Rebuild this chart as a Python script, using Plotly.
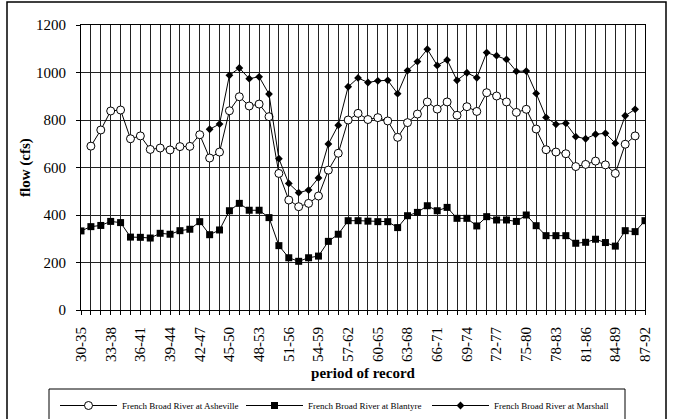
import plotly.graph_objects as go

categories = [f"{y}-{y + 5}" for y in range(30, 88)]
label_every = 3

asheville = [None, 690, 758, 838, 842, 721, 733, 676, 682, 674,
             688, 689, 738, 640, 665, 839, 898, 859, 867, 814,
             575, 463, 435, 449, 480, 589, 660, 800, 828, 802,
             810, 796, 727, 789, 825, 876, 846, 876, 820, 856,
             836, 915, 901, 876, 832, 845, 762, 675, 665, 658,
             604, 613, 627, 611, 575, 698, 733, None]

blantyre = [333, 351, 356, 373, 368, 307, 306, 303, 323, 319,
            334, 340, 372, 317, 337, 418, 449, 420, 420, 389,
            271, 220, 205, 220, 227, 289, 319, 376, 376, 374,
            372, 372, 347, 397, 411, 439, 418, 432, 386, 386,
            354, 393, 379, 379, 373, 400, 355, 313, 313, 313,
            281, 285, 298, 284, 269, 334, 330, 376]

marshall = [None] * 13 + [761, 783, 988, 1019, 974, 982, 909,
            637, 533, 494, 505, 556, 699, 778, 940, 977, 958,
            965, 967, 911, 1008, 1046, 1098, 1030, 1053, 967, 999,
            978, 1084, 1071, 1055, 1005, 1006, 912, 811, 782, 786,
            730, 721, 740, 744, 702, 818, 845, None]

series_names = ["French Broad River at Asheville",
                "French Broad River at Blantyre",
                "French Broad River at Marshall"]

y_ticks = [0, 200, 400, 600, 800, 1000, 1200]

FONT = "Liberation Serif"

fig = go.Figure()
fig.add_trace(go.Scatter(
    x=categories, y=asheville, name=series_names[0], mode="lines+markers",
    line=dict(color="black", width=1),
    marker=dict(symbol="circle", size=8, color="white",
                line=dict(color="black", width=1)),
    connectgaps=False))
fig.add_trace(go.Scatter(
    x=categories, y=blantyre, name=series_names[1], mode="lines+markers",
    line=dict(color="black", width=1),
    marker=dict(symbol="square", size=7, color="black",
                line=dict(color="black", width=0))))
fig.add_trace(go.Scatter(
    x=categories, y=marshall, name=series_names[2], mode="lines+markers",
    line=dict(color="black", width=1),
    marker=dict(symbol="diamond", size=6, color="black",
                line=dict(color="black", width=0))))

ticktext = [c if i % label_every == 0 else "" for i, c in enumerate(categories)]

W, H = 675, 419
L, R, T, B = 81, 30, 25, 109
pw, ph = W - L - R, H - T - B


def px_x(x):
    return (x - L) / pw


def px_y(y):
    return (H - B - y) / ph


fig.update_layout(
    width=W, height=H,
    margin=dict(l=L, r=R, t=T, b=B, autoexpand=False),
    paper_bgcolor="white", plot_bgcolor="white",
    font=dict(family=FONT, color="black", size=15),
    showlegend=True,
    legend=dict(orientation="h", x=px_x(55), y=px_y(391), xanchor="left",
                yanchor="top", font=dict(family=FONT, size=9, color="black"),
                itemwidth=57, entrywidth=114, entrywidthmode="pixels",
                bgcolor="rgba(0,0,0,0)", tracegroupgap=0),
    xaxis=dict(
        type="category", tickmode="array", tickvals=categories,
        ticktext=ticktext, tickangle=-90, ticks="outside", ticklen=4,
        tickcolor="black", showgrid=True, gridcolor="#222", gridwidth=1,
        showline=True, linecolor="black", linewidth=1, mirror=True,
        range=[0, len(categories) - 1], tickfont=dict(size=15),
        ticklabelstandoff=6, automargin=False,
        title=dict(text="<b>period of record</b>", standoff=6,
                   font=dict(size=15)),
        zeroline=False),
    yaxis=dict(
        range=[0, 1200], tickvals=y_ticks, ticks="outside", ticklen=4,
        tickcolor="black", showgrid=True, gridcolor="#222", gridwidth=1,
        showline=True, linecolor="black", linewidth=1, mirror=True,
        tickfont=dict(size=15), ticklabelstandoff=7, automargin=False,
        title=dict(text="<b>flow (cfs)</b>", standoff=1, font=dict(size=15)),
        zeroline=False),
    shapes=[
        dict(type="rect", xref="paper", yref="paper",
             x0=px_x(7), x1=px_x(666), y0=px_y(430), y1=px_y(2),
             line=dict(color="black", width=1.5), layer="below"),
        dict(type="rect", xref="paper", yref="paper",
             x0=px_x(49), x1=px_x(625), y0=px_y(440), y1=px_y(389),
             line=dict(color="black", width=1), layer="below"),
    ],
)

fig.write_html("out.html")
